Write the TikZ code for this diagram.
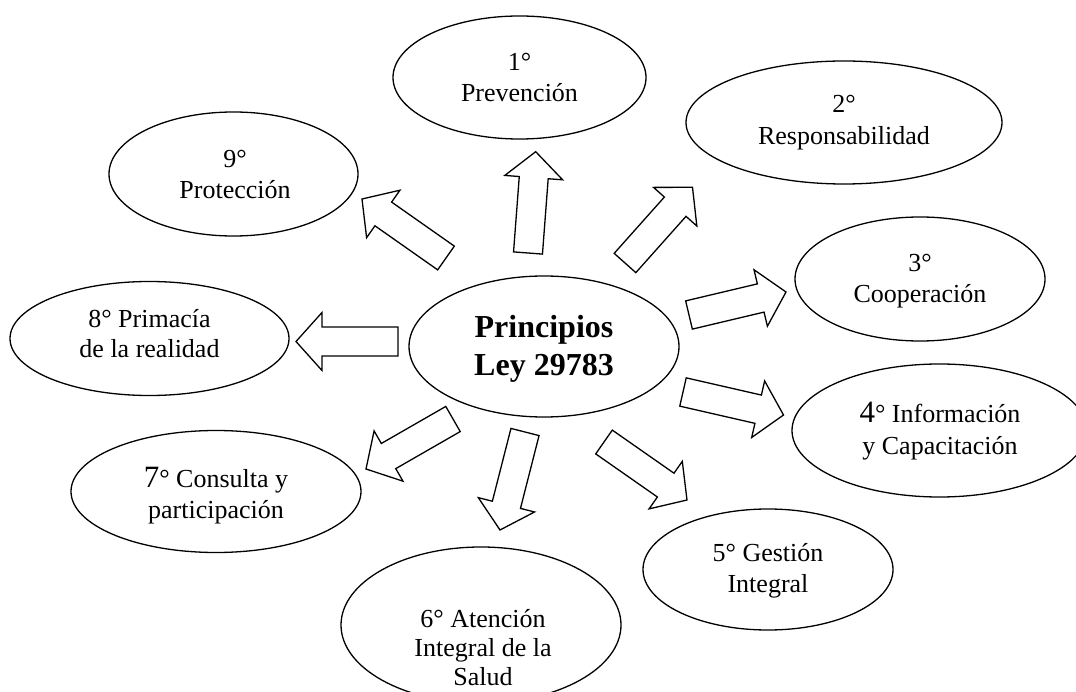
\documentclass[tikz,border=0pt]{standalone}
\usepackage{fontspec}
\setmainfont{Liberation Serif}
\usetikzlibrary{calc,shapes.geometric}
\newcommand\regfont{\fontsize{26}{31.5}\selectfont}
\newcommand\titlefont{\fontsize{32}{38}\selectfont\bfseries}
\newcommand\bigdigit[1]{{\fontsize{31}{31.5}\selectfont #1}}
\begin{document}
\begin{tikzpicture}[x=1pt,y=-1pt,
  bubble/.style={draw, ellipse, line width=1.3pt, inner sep=0pt, fill=white},
  txt/.style={align=center, font=\regfont, inner sep=0pt},
  % hollow block arrow drawn from \tikztostart to \tikztotarget
  blockarrow/.style={draw, fill=white, line width=1.3pt, line join=miter,
    to path={let \p1=(\tikztostart), \p2=(\tikztotarget),
      \n1={atan2(\y2-\y1,\x2-\x1)} in
      ($(\p1)+(\n1+90:14.5pt)$)
      -- ($(\p2)+(\n1+180:26pt)+(\n1+90:14.5pt)$)
      -- ($(\p2)+(\n1+180:26pt)+(\n1+90:29pt)$)
      -- (\p2)
      -- ($(\p2)+(\n1+180:26pt)+(\n1-90:29pt)$)
      -- ($(\p2)+(\n1+180:26pt)+(\n1-90:14.5pt)$)
      -- ($(\p1)+(\n1-90:14.5pt)$)
      -- cycle}}
]
\clip (0,0) rectangle (1076,692);
\fill[white] (0,0) rectangle (1076,692);

% central idea
\node[bubble, minimum width=270pt, minimum height=141pt] (c) at (544,346.5) {};
\node[txt, font=\titlefont] (ct) at (544,349) {Principios\\Ley 29783};

% the nine principles
\node[bubble, minimum width=253pt, minimum height=123pt] (p1) at (519.5,77.5) {};
\node[txt] (p1t) at (519.5,77.4) {1°\\Prevención};

\node[bubble, minimum width=316pt, minimum height=123pt] (p2) at (844,122.5) {};
\node[txt] (p2t) at (844,122.8) {2°\\Responsabilidad};

\node[bubble, minimum width=250pt, minimum height=124pt] (p3) at (920,279) {};
\node[txt] (p3t) at (920,281) {3°\\Cooperación};

\node[bubble, minimum width=295pt, minimum height=133pt] (p4) at (939.5,430.5) {};
\node[txt] (p4t) at (940,431.3) {\bigdigit{4}° Información\\y Capacitación};

\node[bubble, minimum width=250pt, minimum height=121pt] (p5) at (768,569.5) {};
\node[txt] (p5t) at (768,570.8) {5° Gestión\\Integral};

\node[bubble, minimum width=280pt, minimum height=156pt] (p6) at (481,625) {};
\node[txt, font=\fontsize{26}{29}\selectfont] (p6t) at (483,648) {6° Atención\\Integral de la\\Salud};

\node[bubble, minimum width=290pt, minimum height=122pt] (p7) at (216,491.5) {};
\node[txt] (p7t) at (216,495.8) {\bigdigit{7}° Consulta y\\participación};

\node[bubble, minimum width=279pt, minimum height=114pt] (p8) at (149.5,338.5) {};
\node[txt, font=\fontsize{26}{30}\selectfont] (p8t) at (149.5,333.2) {8° Primacía\\de la realidad};

\node[bubble, minimum width=249pt, minimum height=124pt] (p9) at (233.5,174) {};
\node[txt] (p9t) at (235,174.7) {9°\\Protección};

% arrow ends
\coordinate (a1s) at (528,253);   \coordinate (a1e) at (535.7,151.7);
\coordinate (a2s) at (625,263);   \coordinate (a2e) at (692.5,187.3);
\coordinate (a3s) at (689,315);   \coordinate (a3e) at (786,292);
\coordinate (a4s) at (683,392);   \coordinate (a4e) at (783.5,415);
\coordinate (a5s) at (604,442);   \coordinate (a5e) at (687,500);
\coordinate (a6s) at (525,432);   \coordinate (a6e) at (500,530);
\coordinate (a7s) at (453,419);   \coordinate (a7e) at (366,469);
\coordinate (a8s) at (398,341.5); \coordinate (a8e) at (296,341.5);
\coordinate (a9s) at (446,258);   \coordinate (a9e) at (362,199);

\foreach \k in {1,...,9}{
  \draw[blockarrow] (a\k s) to (a\k e);
}
\end{tikzpicture}
\end{document}
